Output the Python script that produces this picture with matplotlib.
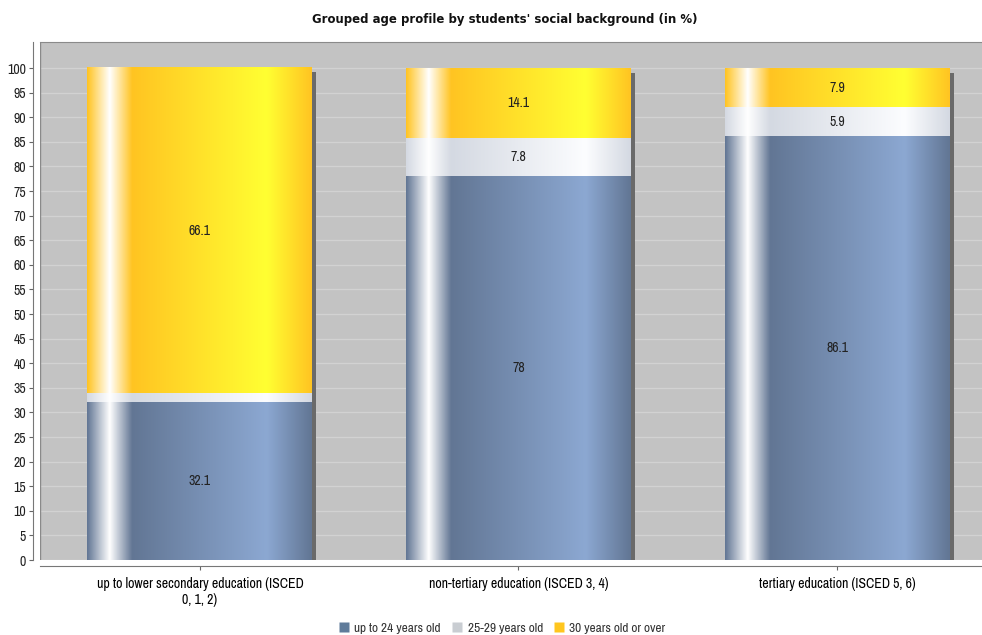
import matplotlib.pyplot as plt
import numpy as np
from matplotlib.patches import Rectangle
from matplotlib.lines import Line2D
from matplotlib import font_manager

names = sorted({f.name for f in font_manager.fontManager.ttflist})
if 'Liberation Sans Narrow' in names:
    narrow = 'Liberation Sans Narrow'
else:
    cands = [n for n in names if 'Narrow' in n or 'Condensed' in n]
    narrow = cands[0] if cands else 'DejaVu Sans'
plt.rcParams['font.family'] = [narrow, 'DejaVu Sans']

categories = ['up to lower secondary education (ISCED\n0, 1, 2)',
              'non-tertiary education (ISCED 3, 4)',
              'tertiary education (ISCED 5, 6)']
series_names = ['up to 24 years old', '25-29 years old', '30 years old or over']
young = [32.1, 78, 86.1]
middle = [1.8, 7.8, 5.9]
older = [66.1, 14.1, 7.9]
yticks = list(range(0, 101, 5))

# base colour, brighter colour, legend colour
colors = [
    ((98, 118, 148), (140, 168, 210), '#5f7b9a'),
    ((212, 217, 226), (252, 253, 255), '#c9cdd2'),
    ((255, 196, 34), (255, 255, 50), '#ffc61e'),
]


def gradient_row(c0, c1, n=300):
    c0 = np.array(c0) / 255
    c1 = np.array(c1) / 255
    white = np.ones(3)
    t = np.linspace(0, 1, n)
    out = np.zeros((n, 3))
    for i, v in enumerate(t):
        if v < 0.1:
            out[i] = c0 + (white - c0) * (v / 0.1)
        elif v < 0.2:
            out[i] = white + (c0 - white) * ((v - 0.1) / 0.1)
        elif v < 0.8:
            out[i] = c0 + (c1 - c0) * ((v - 0.2) / 0.6)
        else:
            out[i] = c1 + (c0 - c1) * ((v - 0.8) / 0.2)
    return out[np.newaxis, :, :]


fig = plt.figure(figsize=(9.82, 6.35), dpi=100)
ax = fig.add_axes([40 / 982, 1 - 560 / 635, 942 / 982, 518 / 635])
ax.set_facecolor('#c3c3c3')

x = np.arange(len(categories))
width = 0.706

for yv in yticks:
    ax.axhline(yv, color='#d2d2d2', lw=1.0, zorder=1)

dx = 4 / 318.5
dy = 4 / 4.92
series = [young, middle, older]
for i in range(len(categories)):
    total = sum(s[i] for s in series)
    ax.add_patch(Rectangle((x[i] - width / 2 + dx, 0), width, total - dy,
                           facecolor='#6a6a6a', edgecolor='none', zorder=2))
    bottom = 0
    for s, (c0, c1, _) in zip(series, colors):
        v = s[i]
        ax.imshow(gradient_row(c0, c1), extent=[x[i] - width / 2, x[i] + width / 2, bottom, bottom + v],
                  aspect='auto', interpolation='bilinear', zorder=3)
        if v > 3:
            ax.text(x[i], bottom + v / 2, f'{v:g}', ha='center', va='center',
                    fontsize=10, color='#222222', zorder=4)
        bottom += v

ax.set_xlim(-0.502, 2.455)
ax.set_ylim(0, 105.3)

ax.set_yticks(yticks)
ax.set_yticklabels([str(v) for v in yticks], fontfamily='DejaVu Sans',
                   fontstretch='condensed', fontsize=9)
ax.set_xticks(x)
ax.set_xticklabels(categories, fontsize=9, color='#333333', linespacing=0.95)
ax.tick_params(axis='y', length=3, color='#666666', labelcolor='#222222', pad=2)
ax.tick_params(axis='x', length=3, color='#666666', pad=5)

ax.spines['left'].set_position(('outward', 5))
ax.spines['bottom'].set_position(('outward', 4))
ax.spines['left'].set_color('#777777')
ax.spines['bottom'].set_color('#777777')
ax.spines['right'].set_visible(False)
ax.spines['top'].set_color('#8a8a8a')
ax.add_line(Line2D([0, 0], [0, 1], transform=ax.transAxes, color='#8a8a8a', lw=1, zorder=5))

fig.text(505 / 982, 1 - 20 / 635, "Grouped age profile by students' social background (in %)",
         ha='center', va='center', fontsize=9.4, fontweight='bold', color='#111111',
         family='DejaVu Sans', stretch='condensed')

handles = [Line2D([], [], marker='s', linestyle='none', markersize=7,
                  markerfacecolor=c[2], markeredgecolor='none') for c in colors]
fig.legend(handles, series_names, loc='center', bbox_to_anchor=(502 / 982, 1 - 628 / 635),
           ncol=3, frameon=False, fontsize=9.6, handletextpad=0.4, columnspacing=0.8,
           handlelength=0.8, labelcolor='#333333')

plt.savefig('out.png', dpi=100)
